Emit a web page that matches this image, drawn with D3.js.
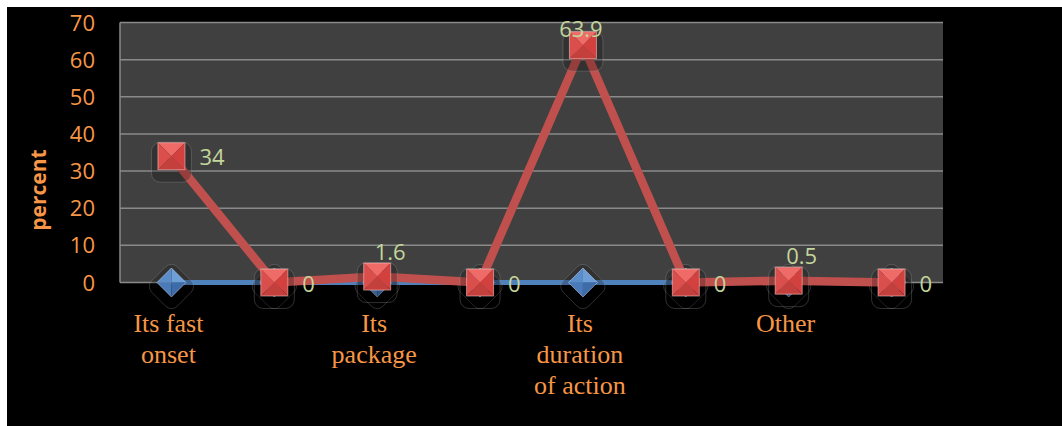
<!DOCTYPE html>
<html>
<head>
<meta charset="utf-8">
<script src="https://cdn.jsdelivr.net/npm/d3@7"></script>
<style>
	body { margin: 0; background: #fff; }
	svg { display: block; }
</style>
</head>
<body>
<script>
const CATEGORIES = [['Its fast', 'onset'], [], ['Its', 'package'], [], ['Its', 'duration', 'of action'], [], ['Other'], []];
const BLUE_VALUES = [0, 0, 0, 0, 0, 0, 0, 0];
const RED_VALUES = [34, 0, 1.6, 0, 63.9, 0, 0.5, 0];
const RED_LABEL_SIDE = ['right', 'right', 'above', 'right', 'above', 'right', 'above', 'right'];
const Y_TICKS = [0, 10, 20, 30, 40, 50, 60, 70];

const ORANGE = '#F79646';
const LABEL_GREEN = '#C3D69B';

let svg = d3.select('body').append('svg')
	.attr('width', 1062)
	.attr('height', 426);

svg.append('rect')
	.attr('x', 7)
	.attr('y', 7)
	.attr('width', 1055)
	.attr('height', 419)
	.attr('fill', '#000');

let plot = { left: 120, right: 943, top: 22.5, bottom: 282.5 };

let x = d3.scaleBand()
	.domain(d3.range(CATEGORIES.length))
	.range([plot.left, plot.right]);
let cx = i => x(i) + x.bandwidth() / 2;

let y = d3.scaleLinear()
	.domain([0, 70])
	.range([plot.bottom, plot.top]);

// plot background
svg.append('rect')
	.attr('x', plot.left)
	.attr('y', plot.top)
	.attr('width', plot.right - plot.left)
	.attr('height', plot.bottom - plot.top)
	.attr('fill', '#404040');

// gridlines
svg.append('g')
	.selectAll('line')
	.data(Y_TICKS.filter(t => t > 0))
	.enter()
	.append('line')
	.attr('x1', plot.left)
	.attr('x2', plot.right)
	.attr('y1', t => y(t))
	.attr('y2', t => y(t))
	.attr('stroke', '#8a8a8a')
	.attr('stroke-width', 1.5);

// axes lines
svg.append('line')
	.attr('x1', plot.left).attr('x2', plot.left)
	.attr('y1', plot.top).attr('y2', plot.bottom)
	.attr('stroke', '#8a8a8a').attr('stroke-width', 1.5);
svg.append('line')
	.attr('x1', plot.left).attr('x2', plot.right)
	.attr('y1', plot.bottom).attr('y2', plot.bottom)
	.attr('stroke', '#8a8a8a').attr('stroke-width', 1.5);

// y tick labels
svg.append('g')
	.selectAll('text')
	.data(Y_TICKS)
	.enter()
	.append('text')
	.attr('x', 95)
	.attr('y', t => y(t) + 8)
	.attr('text-anchor', 'end')
	.attr('font-family', 'Open Sans, sans-serif')
	.attr('font-size', 22)
	.attr('fill', ORANGE)
	.text(t => t);

// y axis title
svg.append('text')
	.attr('transform', 'translate(46, 190) rotate(-90)')
	.attr('text-anchor', 'middle')
	.attr('font-family', 'Open Sans, sans-serif')
	.attr('font-weight', 'bold')
	.attr('font-size', 21)
	.attr('fill', ORANGE)
	.text('percent');

// category labels
let catGroups = svg.append('g')
	.selectAll('text')
	.data(CATEGORIES)
	.enter()
	.append('text')
	.attr('text-anchor', 'middle')
	.attr('font-family', 'Liberation Serif, Times New Roman, serif')
	.attr('font-size', 26)
	.attr('fill', ORANGE);

catGroups.selectAll('tspan')
	.data((lines, i) => lines.map(line => ({ line, i })))
	.enter()
	.append('tspan')
	.attr('x', d => cx(d.i) - 3)
	.attr('y', (d, j) => plot.bottom + 49 + j * 31)
	.text(d => d.line);

let line = d3.line()
	.x((v, i) => cx(i))
	.y(v => y(v));

// marker glow boxes
function glow(g, rotate) {
	g.append('rect')
		.attr('x', -20)
		.attr('y', -20)
		.attr('width', 40)
		.attr('height', 40)
		.attr('rx', 9)
		.attr('transform', rotate ? 'translate(0, 4) rotate(45) scale(0.9)' : 'translate(0, 6)')
		.attr('fill', 'rgba(0,0,0,0.22)')
		.attr('stroke', 'rgba(160,160,160,0.3)')
		.attr('stroke-width', 1);
}

// blue series
svg.append('path')
	.datum(BLUE_VALUES)
	.attr('d', line)
	.attr('fill', 'none')
	.attr('stroke', '#4F81BD')
	.attr('stroke-width', 5);

let blueMarks = svg.append('g')
	.selectAll('g')
	.data(BLUE_VALUES)
	.enter()
	.append('g')
	.attr('transform', (v, i) => `translate(${cx(i)}, ${y(v)})`);

blueMarks.each(function () { glow(d3.select(this), true); });
let D = 14.5;
let diamondFaces = [
	{ pts: [[0, -D], [D, 0], [0, 0]], fill: '#6E9ED6' },
	{ pts: [[D, 0], [0, D], [0, 0]], fill: '#3D6CA8' },
	{ pts: [[0, D], [-D, 0], [0, 0]], fill: '#4A7AB8' },
	{ pts: [[-D, 0], [0, -D], [0, 0]], fill: '#5B8DCB' }
];
blueMarks.selectAll('polygon')
	.data(diamondFaces)
	.enter()
	.append('polygon')
	.attr('points', f => f.pts.map(p => p.join(',')).join(' '))
	.attr('fill', f => f.fill);
blueMarks.append('polygon')
	.attr('points', `0,${-D} ${D},0 0,${D} ${-D},0`)
	.attr('fill', 'none')
	.attr('stroke', 'rgba(200,220,255,0.5)')
	.attr('stroke-width', 1);

// red series
svg.append('path')
	.datum(RED_VALUES)
	.attr('d', line)
	.attr('fill', 'none')
	.attr('stroke', '#C0504D')
	.attr('stroke-width', 8.5)
	.attr('stroke-linejoin', 'round');

let redMarks = svg.append('g')
	.selectAll('g')
	.data(RED_VALUES)
	.enter()
	.append('g')
	.attr('transform', (v, i) => `translate(${cx(i)}, ${y(v)})`);

redMarks.each(function () { glow(d3.select(this), false); });
let S = 13.5;
let squareFaces = [
	{ pts: [[-S, -S], [S, -S], [0, 0]], fill: '#EE6B68' },
	{ pts: [[S, -S], [S, S], [0, 0]], fill: '#D2413E' },
	{ pts: [[S, S], [-S, S], [0, 0]], fill: '#C4403D' },
	{ pts: [[-S, S], [-S, -S], [0, 0]], fill: '#DA4E4B' }
];
redMarks.selectAll('polygon')
	.data(squareFaces)
	.enter()
	.append('polygon')
	.attr('points', f => f.pts.map(p => p.join(',')).join(' '))
	.attr('fill', f => f.fill);
redMarks.append('rect')
	.attr('x', -S)
	.attr('y', -S)
	.attr('width', 2 * S)
	.attr('height', 2 * S)
	.attr('fill', 'none')
	.attr('stroke', 'rgba(255,200,200,0.55)')
	.attr('stroke-width', 1);

// data labels (labels above are kept inside the plot area)
let labelTop = plot.top + 14;
svg.append('g')
	.selectAll('text')
	.data(RED_VALUES)
	.enter()
	.append('text')
	.attr('x', (v, i) => {
		if (RED_LABEL_SIDE[i] === 'right') return cx(i) + 28;
		return y(v) - 17 < labelTop ? cx(i) - 2 : cx(i) + 13;
	})
	.attr('y', (v, i) => RED_LABEL_SIDE[i] === 'right'
		? y(v) + 9
		: Math.max(y(v) - 17, labelTop))
	.attr('text-anchor', (v, i) => RED_LABEL_SIDE[i] === 'right' ? 'start' : 'middle')
	.attr('font-family', 'Open Sans, sans-serif')
	.attr('font-size', 22)
	.attr('fill', LABEL_GREEN)
	.text(v => v);
</script>
</body>
</html>
